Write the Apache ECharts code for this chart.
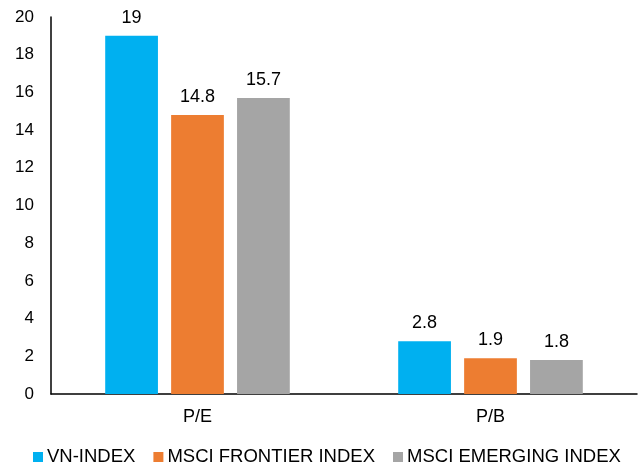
<!DOCTYPE html>
<html>
<head>
<meta charset="utf-8">
<script src="https://cdn.jsdelivr.net/npm/echarts@6/dist/echarts.min.js"></script>
<style>
  html, body { margin: 0; padding: 0; background: #fff; }
  #main { width: 638px; height: 469px; }
</style>
</head>
<body>
<div id="main"></div>
<script>
const categories = ['P/E', 'P/B']
const seriesNames = ['VN-INDEX', 'MSCI FRONTIER INDEX', 'MSCI EMERGING INDEX']
const vnIndex = [19, 2.8]
const msciFrontier = [14.8, 1.9]
const msciEmerging = [15.7, 1.8]
const colors = ['#00B0F0', '#ED7D31', '#A5A5A5']

const font = 'Liberation Sans, Arial, sans-serif'
const myChart = echarts.init(document.getElementById('main'))

const makeSeries = (name, data, color) => ({
  name: name,
  type: 'bar',
  data: data,
  barWidth: '18%',
  barGap: '25%',
  itemStyle: { color: color },
  label: {
    show: true,
    position: 'top',
    distance: 9,
    color: '#000',
    fontSize: 18,
    fontFamily: font
  }
})

const option = {
  animation: false,
  textStyle: { fontFamily: font },
  grid: { left: 51, right: 1, top: 17, bottom: 75 },
  legend: {
    top: 447,
    left: 28,
    padding: [0, 5],
    itemWidth: 10,
    itemHeight: 10,
    itemGap: 18,
    icon: 'rect',
    textStyle: { fontSize: 18.5, lineHeight: 20, color: '#000', fontFamily: font, padding: [0, 0, 0, -1] },
    data: seriesNames
  },
  xAxis: {
    type: 'category',
    data: categories,
    axisLine: { lineStyle: { color: '#000', width: 1.5 } },
    axisTick: { show: false },
    axisLabel: { color: '#000', fontSize: 18, margin: 14, fontFamily: font }
  },
  yAxis: {
    type: 'value',
    min: 0,
    max: 20,
    interval: 2,
    axisLine: { show: true, lineStyle: { color: '#000', width: 1.5 } },
    axisTick: { show: false },
    splitLine: { show: false },
    axisLabel: { color: '#000', fontSize: 17, margin: 17, fontFamily: font }
  },
  series: [
    makeSeries(seriesNames[0], vnIndex, colors[0]),
    makeSeries(seriesNames[1], msciFrontier, colors[1]),
    makeSeries(seriesNames[2], msciEmerging, colors[2])
  ]
}
myChart.setOption(option)
</script>
</body>
</html>
